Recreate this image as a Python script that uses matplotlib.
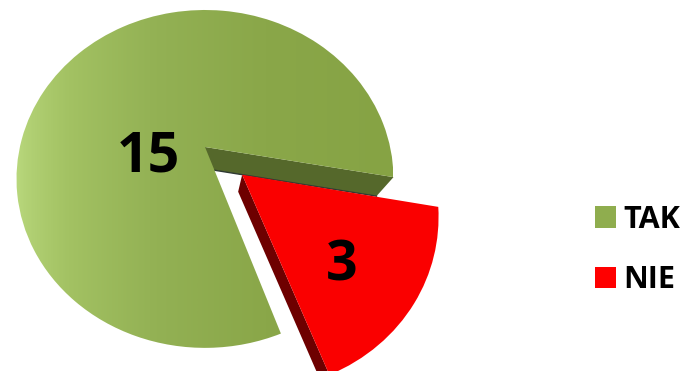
import numpy as np
import matplotlib
matplotlib.use('Agg')
import matplotlib.pyplot as plt
from matplotlib.patches import Patch, Polygon
from matplotlib.transforms import Transform
from matplotlib.colors import LinearSegmentedColormap

labels = ['TAK', 'NIE']
values = [15, 3]

plt.rcParams['font.family'] = ['Open Sans', 'DejaVu Sans']

# perspective of the tilted pie, from unit circle to pixels
CX, CY = 205, 147
SX, SY = 185.1, 162.9
K = 0.189


def warp(xy):
    xy = np.asarray(xy, dtype=float).reshape(-1, 2)
    w = 1 + K * xy[:, 1]
    return np.column_stack([CX + SX * xy[:, 0] / w, CY - SY * xy[:, 1] / w])


class Warp(Transform):
    input_dims = output_dims = 2

    def transform_non_affine(self, values):
        return warp(values)


fig = plt.figure(figsize=(6.87, 3.71), dpi=100)
ax = fig.add_axes([0, 0, 1, 1])
wedges, _ = ax.pie(values, startangle=-10.3, explode=[0, 0.255], frame=False)
ax.set_aspect('auto')
ax.set_xlim(0, 687)
ax.set_ylim(371, 0)
ax.axis('off')


def rim(w, angle):
    a = np.radians(angle)
    return warp([w.center[0] + w.r * np.cos(a), w.center[1] + w.r * np.sin(a)])[0]


tak, nie = wedges
tr = Warp() + ax.transData
for w in wedges:
    w.set_transform(tr)

# inner wall of the green slice
p0 = warp([tak.center])[0]
p1 = rim(tak, tak.theta1)
d = np.array([-17, 19])
ax.add_patch(Polygon([p0, p1, p1 + d, p0 + d], fc='#55682B', ec='none', zorder=1))
ax.plot([p0[0] + d[0], p1[0] + d[0]], [p0[1] + d[1], p1[1] + d[1]], c='#2F3A33', lw=1, zorder=1)

# green top with gradient
cmap = LinearSegmentedColormap.from_list('g', ['#BAD97E', '#A3C263', '#93B154', '#8AA749', '#86A344'])
tak.set_facecolor('none')
tak.set_zorder(2)
grad = np.linspace(0, 1, 400).reshape(1, -1) ** 0.7
im = ax.imshow(grad, extent=[16, 393, 371, 0], cmap=cmap, aspect='auto', zorder=2)
im.set_clip_path(tak.get_path(), tak.get_transform())
ax.set_xlim(0, 687)
ax.set_ylim(371, 0)

# red slice and its side
q0 = warp([nie.center])[0]
q1 = rim(nie, nie.theta1)
e = np.array([-4, 17])
ax.add_patch(Polygon([q0, q1, q1 + e, q0 + e], fc='#FA0000', ec='none', zorder=3))
ax.patches[-1].set_facecolor('#6E0000')
nie.set_facecolor('#FA0000')
nie.set_edgecolor('none')
nie.set_zorder(4)

ax.text(148, 157, str(values[0]), fontsize=40, fontweight='bold', ha='center', va='center', zorder=5)
ax.text(342, 266, str(values[1]), fontsize=40, fontweight='bold', ha='center', va='center', zorder=5)

leg = ax.legend(handles=[Patch(fc='#8FAD4E', label=labels[0]), Patch(fc='#FF0000', label=labels[1])],
                loc='center left', bbox_to_anchor=(595 / 687, 1 - 250 / 371), frameon=False,
                borderpad=0, borderaxespad=0,
                handlelength=0.69, handleheight=0.69, handletextpad=0.25, labelspacing=1.0,
                prop={'size': 22, 'weight': 'bold'})
fig.savefig('out.png', dpi=100)
